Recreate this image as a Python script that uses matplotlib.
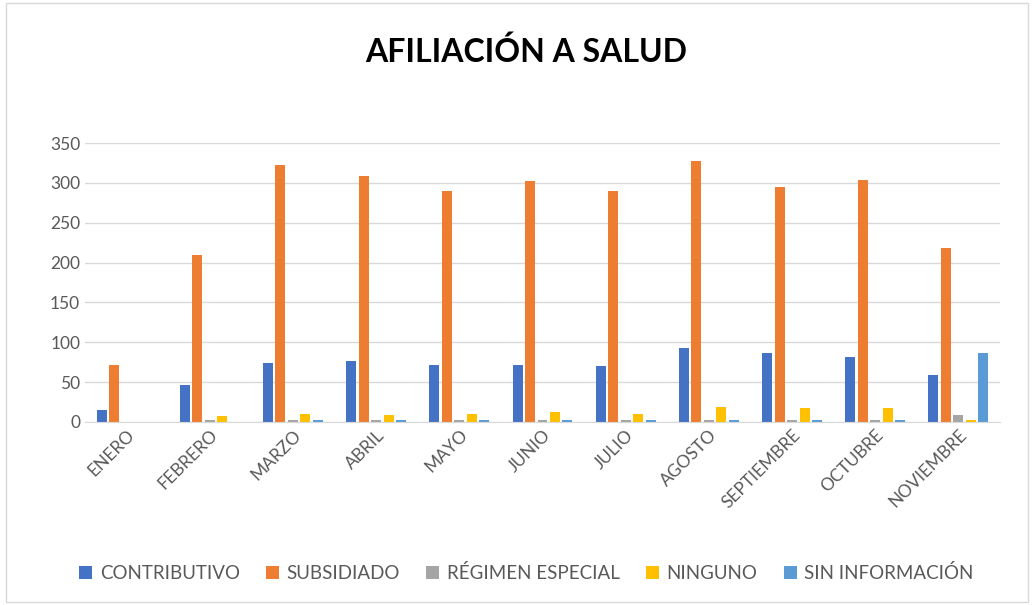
import matplotlib.pyplot as plt
import numpy as np

meses = ['ENERO', 'FEBRERO', 'MARZO', 'ABRIL', 'MAYO', 'JUNIO', 'JULIO',
         'AGOSTO', 'SEPTIEMBRE', 'OCTUBRE', 'NOVIEMBRE']
contributivo = [15, 46, 74, 77, 72, 72, 70, 93, 87, 82, 59]
subsidiado = [72, 209, 322, 309, 290, 302, 290, 327, 295, 304, 218]
regimen_especial = [0, 3, 3, 3, 3, 3, 3, 3, 3, 3, 9]
ninguno = [0, 8, 10, 9, 10, 12, 10, 19, 17, 17, 3]
sin_informacion = [0, 0, 3, 3, 3, 3, 3, 3, 3, 3, 87]

series = [
    ('CONTRIBUTIVO', contributivo, '#4472C4'),
    ('SUBSIDIADO', subsidiado, '#ED7D31'),
    ('RÉGIMEN ESPECIAL', regimen_especial, '#A5A5A5'),
    ('NINGUNO', ninguno, '#FFC000'),
    ('SIN INFORMACIÓN', sin_informacion, '#5B9BD5'),
]

plt.rcParams['font.family'] = ['Lato', 'DejaVu Sans']
gris = '#595959'

fig = plt.figure(figsize=(10.32, 6.05), dpi=100)
ax = fig.add_axes([85 / 1032, 1 - 422 / 605, (1000 - 85) / 1032, (422 - 143) / 605])

x = np.arange(len(meses))
paso = 0.15
ancho = 0.12
for i, (nombre, valores, color) in enumerate(series):
    ax.bar(x + (i - 2) * paso, valores, width=ancho, color=color, label=nombre)

ax.set_xlim(-0.5, len(meses) - 0.5)
ax.set_ylim(0, 350)
ax.set_yticks(range(0, 351, 50))
ax.yaxis.grid(True, color='#D9D9D9', linewidth=1)
ax.set_axisbelow(True)
for lado in ['top', 'right', 'left']:
    ax.spines[lado].set_visible(False)
ax.spines['bottom'].set_color('#D9D9D9')
ax.tick_params(axis='both', length=0, colors=gris, labelsize=12.5)
ax.set_xticks(x)
ax.set_xticklabels(meses, rotation=45, ha='right', rotation_mode='anchor')

fig.text(0.51, 1 - 52 / 605, 'AFILIACIÓN A SALUD', ha='center', va='center',
         fontsize=23, fontweight='bold', color='black')

handles, labels = ax.get_legend_handles_labels()
fig.legend(handles, labels, loc='center', bbox_to_anchor=(0.51, 1 - 573 / 605),
           ncol=5, frameon=False, fontsize=13.5, labelcolor=gris,
           handlelength=0.7, handleheight=0.7, handletextpad=0.4, columnspacing=1.4)

# marco del gráfico
fig.patches.append(plt.Rectangle((0.006, 0.005), 0.99, 0.99, transform=fig.transFigure,
                                 fill=False, edgecolor='#D9D9D9', linewidth=1))

fig.savefig('out.png', dpi=100)
